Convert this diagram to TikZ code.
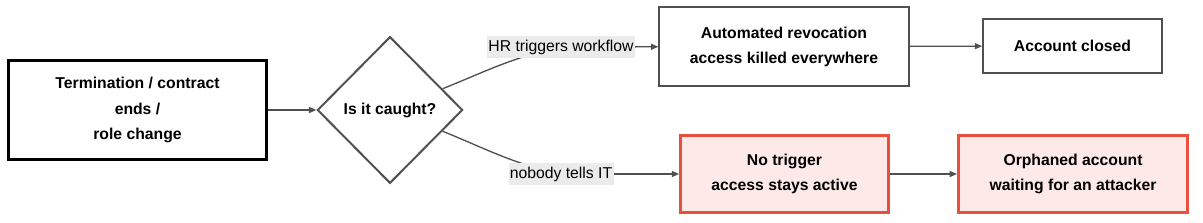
\documentclass[tikz,border=0pt]{standalone}
\usepackage{fontspec}
\setmainfont{Liberation Sans}
\usetikzlibrary{shapes.geometric, arrows.meta, positioning}
\definecolor{edgegray}{HTML}{505050}
\definecolor{alertred}{HTML}{E8503E}
\definecolor{alertfill}{HTML}{FDEAE8}
\definecolor{lblgray}{HTML}{EBEBEB}
\tikzset{
	stepbox/.style={draw=edgegray, line width=1.5pt, align=center, inner sep=0pt,
		font=\fontsize{11.8}{18.8}\selectfont\bfseries}
}
\tikzset{
	alertbox/.style={stepbox, draw=alertred, line width=2pt, fill=alertfill}
}
\tikzset{
	edgelabel/.style={fill=lblgray, inner xsep=1pt, inner ysep=0pt, minimum height=17pt,
		font=\fontsize{11.8}{13}\selectfont}
}
\tikzset{
	flow/.style={draw=edgegray, line width=1pt, -{Triangle[length=5.5pt, width=4.5pt]}},
	plain/.style={draw=edgegray, line width=1pt}
}

\begin{document}
\begin{tikzpicture}[x=0.75pt, y=-0.75pt]
      \useasboundingbox (0,0) rectangle (1203,222);

      \node[stepbox, draw=black, line width=2.2pt, minimum width=193pt, minimum height=74pt] (start) at (137.5,110) {Termination / contract\\ends /\\role change};
      \node[stepbox, diamond, aspect=1, minimum width=109pt, minimum height=110pt] (caught) at (390,110) {Is it caught?};

      \node[stepbox, minimum width=187pt, minimum height=59pt] (revoke) at (784,46.5) {Automated revocation\\access killed everywhere};
      \node[stepbox, minimum width=134pt, minimum height=40pt] (closed) at (1072.5,46) {Account closed};

      \node[alertbox, minimum width=156pt, minimum height=58pt] (notrig) at (784.5,174) {No trigger\\access stays active};
      \node[alertbox, minimum width=172pt, minimum height=58pt] (orphan) at (1073,174) {Orphaned account\\waiting for an attacker};

      \draw[flow] (start) -- (caught);

      % caught branch, label sits on the curve
      \coordinate (hrc) at (561,47);
      \draw[plain] (caught) to[out=22, in=192] (hrc);
      \node[edgelabel] (hr) at (hrc) {HR triggers workflow};
      \draw[flow] (hr) -- (revoke);
      \draw[flow] (revoke) -- (closed);

      % missed branch
      \coordinate (nbc) at (561,174);
      \draw[plain] (caught) to[out=-22, in=168] (nbc);
      \node[edgelabel] (nobody) at (nbc) {nobody tells IT};
      \draw[flow] (nobody) -- (notrig);
      \draw[flow] (notrig) -- (orphan);
    \end{tikzpicture}
\end{document}
